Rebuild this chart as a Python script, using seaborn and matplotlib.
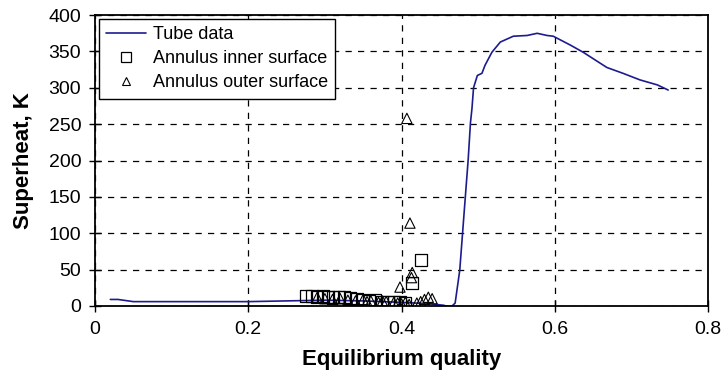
import matplotlib
matplotlib.use("Agg")
import matplotlib.pyplot as plt
from matplotlib.lines import Line2D
import seaborn as sns

# tube data (line)
tube_x = [0.02, 0.03, 0.05, 0.10, 0.15, 0.20, 0.25, 0.30, 0.35, 0.40, 0.437, 0.455,
          0.461, 0.466, 0.470, 0.476, 0.483, 0.487, 0.490, 0.492, 0.494, 0.499, 0.505,
          0.509, 0.518, 0.529, 0.546, 0.564, 0.577, 0.590, 0.598, 0.620, 0.637, 0.668,
          0.689, 0.711, 0.734, 0.748]
tube_y = [9, 9, 6, 6, 6, 6, 7, 8, 7, 5, 3, 1,
          -1, 0, 4, 49, 146, 201, 252, 272, 300, 317, 320,
          331, 349, 363, 371, 372, 375, 372, 371, 359, 349, 328,
          320, 311, 304, 297]

# annulus inner surface (squares)
inner_x = [0.275, 0.283, 0.290, 0.297, 0.304, 0.311, 0.318, 0.325, 0.333, 0.342,
           0.350, 0.358, 0.366, 0.374, 0.382, 0.390, 0.398, 0.405, 0.414, 0.425]
inner_y = [14, 14, 13, 14, 13, 13, 12, 13, 11, 9,
           8, 7, 8, 6, 5, 6, 5, 4, 32, 63]

# annulus outer surface (triangles)
outer_x = [0.29, 0.30, 0.31, 0.32, 0.33, 0.34, 0.35, 0.355, 0.36, 0.37, 0.375, 0.38,
           0.39, 0.395, 0.40, 0.405, 0.41, 0.42, 0.425, 0.43, 0.435, 0.44,
           0.398, 0.407, 0.411, 0.414, 0.413]
outer_y = [12, 10, 9, 10, 8, 7, 9, 6, 7, 5, 7, 6,
           5, 4, 3, 5, 2, 4, 6, 9, 12, 10,
           26, 258, 114, 46, 39]

x_ticks = [0, 0.2, 0.4, 0.6, 0.8]
x_ticklabels = ["0", "0.2", "0.4", "0.6", "0.8"]
y_ticks = [0, 50, 100, 150, 200, 250, 300, 350, 400]

sns.set_theme(style="white")
plt.rcParams["font.family"] = ["Liberation Sans", "DejaVu Sans"]
plt.rcParams["text.color"] = "black"
plt.rcParams["axes.labelcolor"] = "black"

fig = plt.figure(figsize=(7.22, 3.78), dpi=100)
ax = fig.add_axes([0.1316, 0.1905, 0.849, 0.7695])

line_color = "#1c1c8f"
sns.lineplot(x=tube_x, y=tube_y, ax=ax, color=line_color, linewidth=1.2,
             sort=False, estimator=None)
sns.scatterplot(x=inner_x, y=inner_y, ax=ax, marker="s", s=75,
                facecolor="none", edgecolor="black", linewidth=0.9, zorder=3)
sns.scatterplot(x=outer_x, y=outer_y, ax=ax, marker="^", s=55,
                facecolor="none", edgecolor="black", linewidth=0.8, zorder=3)

ax.set_xlim(0, 0.8)
ax.set_ylim(0, 400)
ax.set_xticks(x_ticks)
ax.set_xticklabels(x_ticklabels)
ax.set_yticks(y_ticks)
ax.tick_params(direction="inout", length=8, width=1, labelsize=14, colors="black",
               left=True, bottom=True)
ax.tick_params(axis="x", pad=7)
ax.tick_params(axis="y", pad=6)
ax.grid(True, color="black", linestyle=(0, (5, 5)), linewidth=0.9)
for sp in ax.spines.values():
    sp.set_color("black")
    sp.set_linewidth(1.3)

ax.set_xlabel("Equilibrium quality", fontsize=16, fontweight="bold", labelpad=8)
ax.set_ylabel("Superheat, K", fontsize=16, fontweight="bold", labelpad=10)

handles = [
    Line2D([], [], color=line_color, linewidth=1.2),
    Line2D([], [], linestyle="none", marker="s", markersize=6.5,
           markerfacecolor="none", markeredgecolor="black", markeredgewidth=0.9),
    Line2D([], [], linestyle="none", marker="^", markersize=5.5,
           markerfacecolor="none", markeredgecolor="black", markeredgewidth=0.8),
]
labels = ["Tube data", "Annulus inner surface", "Annulus outer surface"]
leg = ax.legend(handles, labels, loc="upper left", fontsize=13, frameon=True,
                fancybox=False, framealpha=1, edgecolor="black",
                borderaxespad=0.2, handlelength=2.2, handletextpad=0.4,
                labelspacing=0.4, borderpad=0.4)
leg.get_frame().set_linewidth(1.0)
for t in leg.get_texts():
    t.set_color("black")

fig.savefig("out.png", dpi=100)
